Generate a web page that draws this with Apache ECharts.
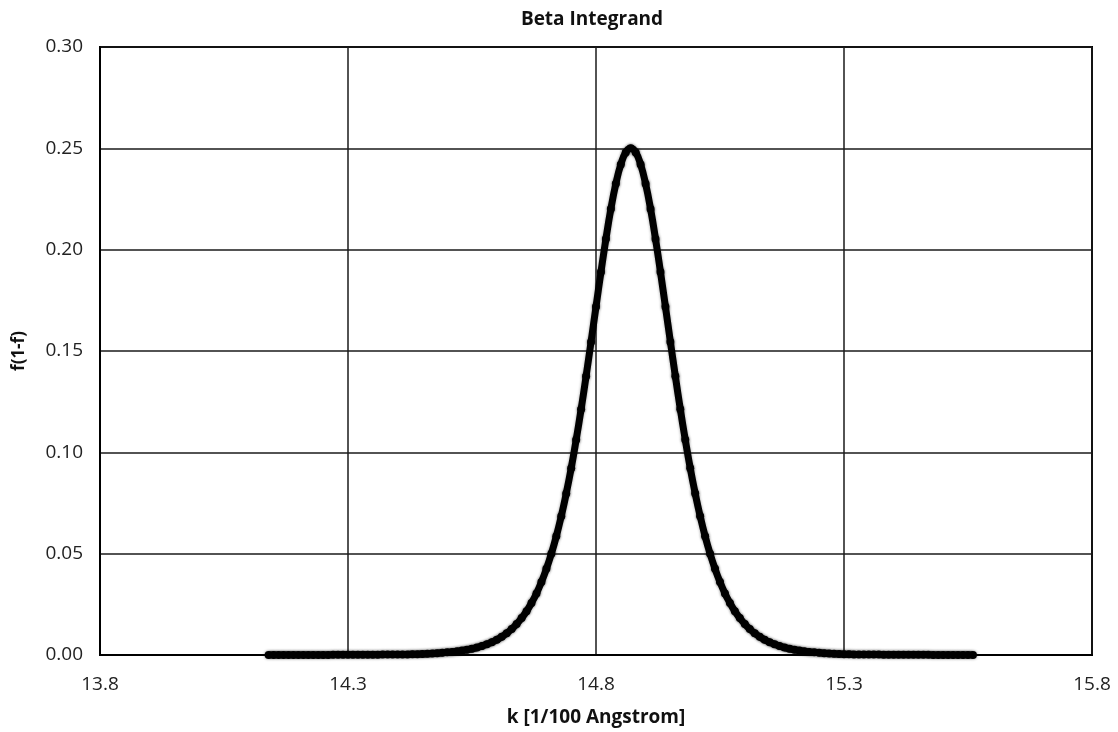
<!DOCTYPE html>
<html>
<head>
<meta charset="utf-8">
<title>Beta Integrand</title>
<script src="https://cdn.jsdelivr.net/npm/echarts@6/dist/echarts.min.js"></script>
<style>
  html, body { margin: 0; padding: 0; background: #fff; }
  #chart { width: 1118px; height: 732px; }
</style>
</head>
<body>
<div id="chart"></div>
<script>
// k grid of the sampled points [1/100 Angstrom]
var kStart = 14.14;
var kStep = 0.01;
// f(1-f), one value per k sample (14.14 .. 15.56)
var integrand = [
  0.0000, 0.0000, 0.0000, 0.0000, 0.0000, 0.0000, 0.0000, 0.0000, 0.0000, 0.0000,
  0.0000, 0.0000, 0.0000, 0.0001, 0.0001, 0.0001, 0.0001, 0.0001, 0.0001, 0.0001,
  0.0001, 0.0001, 0.0001, 0.0002, 0.0002, 0.0002, 0.0002, 0.0002, 0.0003, 0.0004,
  0.0004, 0.0005, 0.0006, 0.0007, 0.0009, 0.0011, 0.0013, 0.0015, 0.0018, 0.0022,
  0.0026, 0.0031, 0.0037, 0.0044, 0.0053, 0.0063, 0.0075, 0.0090, 0.0107, 0.0128,
  0.0153, 0.0182, 0.0216, 0.0257, 0.0304, 0.0360, 0.0425, 0.0500, 0.0586, 0.0685,
  0.0797, 0.0922, 0.1062, 0.1213, 0.1375, 0.1545, 0.1718, 0.1890, 0.2053, 0.2201,
  0.2325, 0.2420, 0.2480, 0.2500,
  0.2480, 0.2420, 0.2325, 0.2201, 0.2053, 0.1890, 0.1718, 0.1545, 0.1375, 0.1213,
  0.1062, 0.0922, 0.0797, 0.0685, 0.0586, 0.0500, 0.0425, 0.0360, 0.0304, 0.0257,
  0.0216, 0.0182, 0.0153, 0.0128, 0.0107, 0.0090, 0.0075, 0.0063, 0.0053, 0.0044,
  0.0037, 0.0031, 0.0026, 0.0022, 0.0018, 0.0015, 0.0013, 0.0011, 0.0009, 0.0007,
  0.0006, 0.0005, 0.0004, 0.0004, 0.0003, 0.0002, 0.0002, 0.0002, 0.0002, 0.0002,
  0.0001, 0.0001, 0.0001, 0.0001, 0.0001, 0.0001, 0.0001, 0.0001, 0.0001, 0.0001,
  0.0000, 0.0000, 0.0000, 0.0000, 0.0000, 0.0000, 0.0000, 0.0000, 0.0000
];
// axis ranges / ticks
var xRange = [13.8, 15.8];
var xTickStep = 0.5;
var yRange = [0, 0.30];
var yTickStep = 0.05;

var points = [];
for (var i = 0; i < integrand.length; i++) {
  var k = Math.round((kStart + i * kStep) * 100) / 100;
  points.push([k, integrand[i]]);
}

var chart = echarts.init(document.getElementById('chart'));
var font = '"Open Sans", "Noto Sans", sans-serif';
var gridLine = { color: '#1a1a1a', width: 1.5 };

chart.setOption({
  backgroundColor: '#fff',
  animation: false,
  title: {
    text: 'Beta Integrand',
    left: 587,
    top: 5,
    textAlign: 'center',
    textStyle: { fontFamily: font, fontSize: 19, fontWeight: 'bold', color: '#111' }
  },
  grid: {
    left: 100, right: 26, top: 47, bottom: 77,
    outerBoundsMode: 'none',
    containLabel: false,
    show: true, borderColor: '#000', borderWidth: 2
  },
  xAxis: {
    type: 'value',
    min: xRange[0], max: xRange[1], interval: xTickStep,
    name: 'k [1/100 Angstrom]',
    nameLocation: 'middle',
    nameGap: 53,
    nameTextStyle: { fontFamily: font, fontSize: 19, fontWeight: 'bold', color: '#111' },
    axisLine: { lineStyle: { color: '#000', width: 2 } },
    axisTick: { show: false },
    axisLabel: {
      margin: 20, fontFamily: font, fontSize: 19, color: '#222',
      formatter: function (v) { return v.toFixed(1); }
    },
    splitLine: { show: true, lineStyle: gridLine }
  },
  yAxis: {
    type: 'value',
    min: yRange[0], max: yRange[1], interval: yTickStep,
    name: 'f(1-f)',
    nameLocation: 'middle',
    nameRotate: 90,
    nameGap: 72,
    nameTextStyle: { fontFamily: font, fontSize: 17, fontWeight: 'bold', color: '#111' },
    axisLine: { show: true, lineStyle: { color: '#000', width: 2 } },
    axisTick: { show: false },
    axisLabel: {
      margin: 17, fontFamily: font, fontSize: 19, color: '#222',
      formatter: function (v) { return v.toFixed(2); }
    },
    splitLine: { show: true, lineStyle: gridLine }
  },
  series: [{
    name: 'f(1-f)',
    type: 'line',
    data: points,
    smooth: true,
    symbol: 'circle',
    symbolSize: 8,
    showAllSymbol: true,
    itemStyle: { color: '#000', shadowColor: 'rgba(0,0,0,0.45)', shadowBlur: 3 },
    lineStyle: { color: '#000', width: 7, shadowColor: 'rgba(0,0,0,0.4)', shadowBlur: 3 },
    emphasis: { disabled: true },
    z: 5
  }]
});
</script>
</body>
</html>
